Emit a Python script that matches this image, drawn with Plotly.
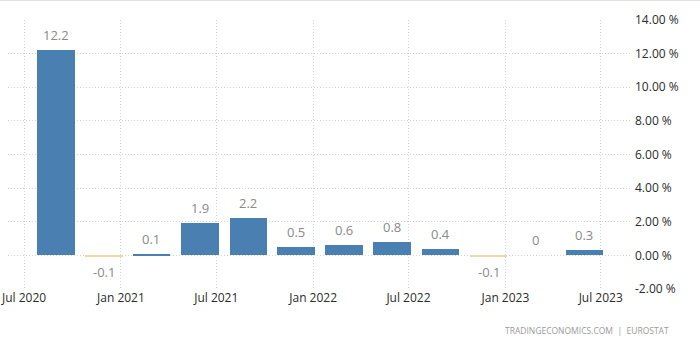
import plotly.graph_objects as go

# Quarterly growth rate (%), plotted at mid-quarter month ends
periods = ["2020-08-31", "2020-11-30", "2021-02-28", "2021-05-31",
           "2021-08-31", "2021-11-30", "2022-02-28", "2022-05-31",
           "2022-08-31", "2022-11-30", "2023-02-28", "2023-05-31"]
values = [12.2, -0.1, 0.1, 1.9, 2.2, 0.5, 0.6, 0.8, 0.4, -0.1, 0, 0.3]
value_labels = ["12.2", "-0.1", "0.1", "1.9", "2.2", "0.5", "0.6", "0.8",
                "0.4", "-0.1", "0", "0.3"]

x_tickvals = ["2020-07-01", "2021-01-01", "2021-07-01", "2022-01-01",
              "2022-07-01", "2023-01-01", "2023-07-01"]
x_ticktext = ["Jul 2020", "Jan 2021", "Jul 2021", "Jan 2022",
              "Jul 2022", "Jan 2023", "Jul 2023"]
y_tickvals = [-2, 0, 2, 4, 6, 8, 10, 12, 14]
y_ticktext = ["-2.00 %", "0.00 %", "2.00 %", "4.00 %", "6.00 %",
              "8.00 %", "10.00 %", "12.00 %", "14.00 %"]

POS = "#4a7fb1"
NEG = "#f0d6ae"
DAY_MS = 86400000

fig = go.Figure(go.Bar(
    x=periods,
    y=values,
    width=[71.5 * DAY_MS] * len(values),
    marker=dict(color=[POS if v >= 0 else NEG for v in values], line_width=0),
    hoverinfo="skip",
))

for p, v, t in zip(periods, values, value_labels):
    neg = v < 0
    fig.add_annotation(
        x=p, y=v, text=t, showarrow=False,
        yanchor="top" if neg else "bottom",
        yshift=-4 if neg else 4,
        font=dict(family="Open Sans", size=13, color="#8a8a8a"),
    )

# source note
fig.add_annotation(
    xref="paper", yref="paper", x=1.0667, y=-0.155,
    xanchor="right", yanchor="middle", showarrow=False,
    text="TRADINGECONOMICS.COM  |  EUROSTAT",
    font=dict(family="Open Sans", size=8.5, color="#9a9a9a"),
)

# thin rule across the top of the page
fig.add_shape(type="line", xref="paper", yref="paper",
              x0=-0.02, x1=1.13, y0=1.073, y1=1.073,
              line=dict(color="#e2e2e2", width=1.5))

grid = dict(showgrid=True, gridcolor="#d4d4d4", griddash="1px,2px", gridwidth=1)

fig.update_layout(
    width=700, height=346,
    margin=dict(l=8, r=70, t=20, b=57, autoexpand=False),
    paper_bgcolor="white", plot_bgcolor="white",
    showlegend=False,
    bargap=0,
    xaxis=dict(
        type="date",
        range=["2020-05-31 14:00", "2023-08-25 14:00"],
        tickvals=x_tickvals, ticktext=x_ticktext,
        tickfont=dict(family="Open Sans", size=12, color="#2b2b2b"),
        zeroline=False, showline=False, ticks="",
        automargin=False,
        **grid,
    ),
    yaxis=dict(
        side="right",
        range=[-2, 14],
        tickvals=y_tickvals, ticktext=y_ticktext,
        tickfont=dict(family="Open Sans", size=12, color="#2b2b2b"),
        zeroline=False, showline=False, ticks="",
        ticklabelstandoff=4,
        automargin=False,
        **grid,
    ),
)

fig.write_html("out.html")
